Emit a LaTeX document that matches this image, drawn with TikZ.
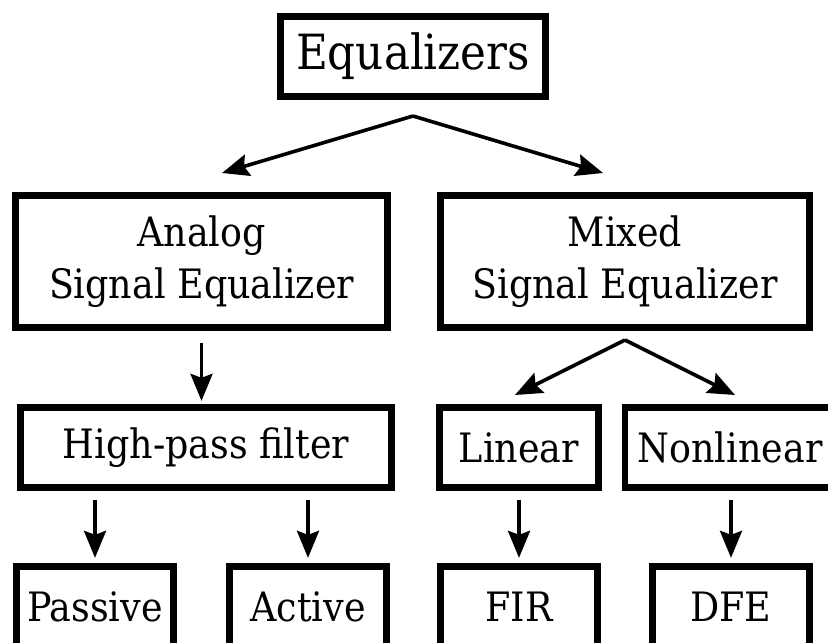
\documentclass[tikz,border=0pt]{standalone}
\usepackage{fontspec}
\setmainfont{DejaVu Serif Condensed}
\usetikzlibrary{arrows.meta}
\begin{document}
\begin{tikzpicture}[x=1pt,y=-1pt,
  box/.style={draw=black, line width=6.8pt, rectangle, inner sep=0pt,
    align=center, fill=white},
  big/.style={font=\fontsize{48.5}{58}\selectfont},
  mid/.style={font=\fontsize{40.5}{52}\selectfont},
  arr/.style={line width=3.6pt, -{Stealth[length=27pt,width=22pt,inset=4pt]}}
]
\useasboundingbox (0,0) rectangle (828,643);
\fill[white] (0,0) rectangle (828,643);

\node[box,big,minimum width=265.5pt,minimum height=80.5pt] (eq) at (413,56.5) {Equalizers};
\node[box,mid,minimum width=372.5pt,minimum height=132.5pt] (an) at (201.5,261.5) {Analog\\Signal Equalizer};
\node[box,mid,minimum width=369.5pt,minimum height=132.5pt] (mx) at (625,261.5) {Mixed\\Signal Equalizer};
\node[box,mid,minimum width=371.5pt,minimum height=80.5pt] (hp) at (206,447.5) {High-pass filter};
\node[box,mid,minimum width=159.5pt,minimum height=80.5pt] (li) at (519,447.5) {Linear};
\node[box,mid,minimum width=210pt,minimum height=80.5pt] (nl) at (730,447.5) {Nonlinear};
\node[box,mid,minimum width=157.5pt,minimum height=80.5pt] (pa) at (95,606.5) {Passive};
\node[box,mid,minimum width=157.5pt,minimum height=80.5pt] (ac) at (308,606.5) {Active};
\node[box,mid,minimum width=157.5pt,minimum height=80.5pt] (fi) at (519,606.5) {FIR};
\node[box,mid,minimum width=157.5pt,minimum height=80.5pt] (df) at (731,606.5) {DFE};

\coordinate (apex1) at (413,116);
\coordinate (t1) at (222,173);
\coordinate (t2) at (603,173);
\coordinate (apex2) at (625,340);
\coordinate (t3) at (515,395);
\coordinate (t4) at (735,395);

\draw[arr] (apex1) -- (t1);
\draw[arr] (apex1) -- (t2);
\draw[arr] (apex2) -- (t3);
\draw[arr] (apex2) -- (t4);
\draw[arr, shorten <=12pt, shorten >=3pt] (an.south) -- (an.south |- hp.north);
\draw[arr, shorten <=9pt, shorten >=5pt] (hp.south -| pa.north) -- (pa.north);
\draw[arr, shorten <=9pt, shorten >=5pt] (hp.south -| ac.north) -- (ac.north);
\draw[arr, shorten <=9pt, shorten >=5pt] (li.south -| fi.north) -- (fi.north);
\draw[arr, shorten <=9pt, shorten >=5pt] (nl.south -| df.north) -- (df.north);
\end{tikzpicture}
\end{document}
